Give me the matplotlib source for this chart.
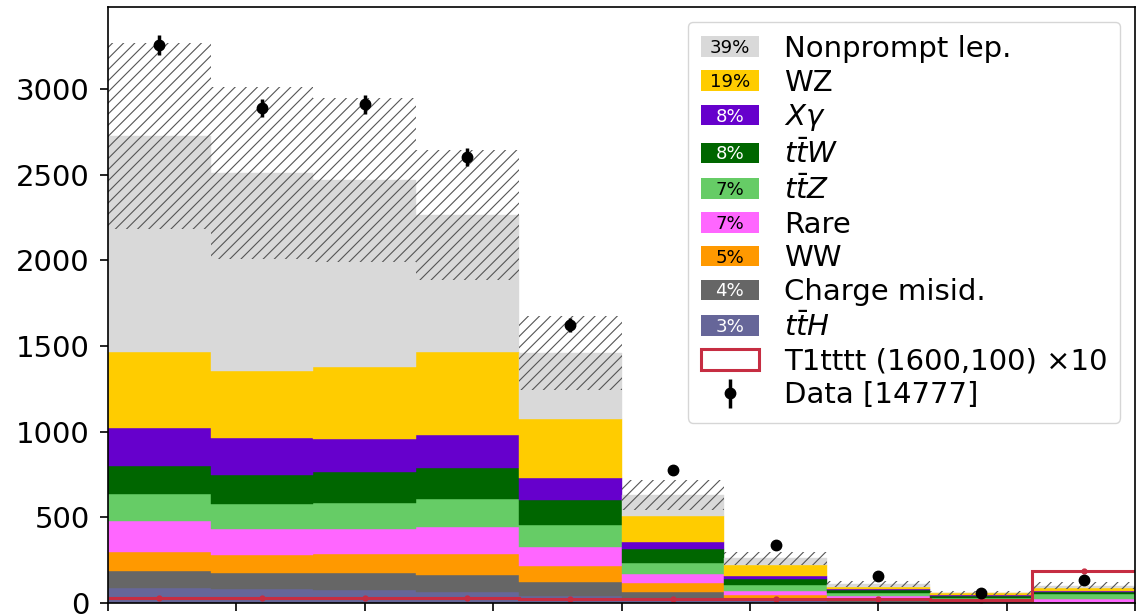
import numpy as np
import matplotlib
matplotlib.use("Agg")
import matplotlib.pyplot as plt
import matplotlib.patches as mpatches
import matplotlib.text as mtext
from matplotlib.legend_handler import HandlerPatch

# binning (10 bins of 80, ticks every 100)
bin_edges = np.arange(0, 801, 80)

# background yields per bin, bottom of the stack first
yield_tth = [90, 80, 74, 64, 41, 18, 18, 7, 3, 2]
yield_chargemisid = [97, 95, 99, 101, 80, 44, 13, 9, 3, 2]
yield_ww = [113, 105, 111, 119, 97, 53, 14, 12, 6, 2]
yield_rare = [180, 150, 146, 158, 111, 56, 27, 15, 8, 20]
yield_ttz = [154, 146, 154, 163, 124, 62, 33, 14, 12, 28]
yield_ttw = [167, 169, 179, 181, 150, 80, 35, 19, 6, 12]
yield_xgamma = [222, 218, 194, 196, 125, 41, 18, 4, 7, 2]
yield_wz = [442, 391, 420, 483, 344, 154, 64, 15, 11, 21]
yield_nonprompt = [1261, 1156, 1092, 800, 389, 122, 38, 15, 4, 11]
stat_unc = [543, 504, 477, 380, 216, 88, 40, 18, 12, 20]

data_counts = [3257, 2889, 2911, 2603, 1624, 775, 340, 160, 60, 137]
signal_x10 = [27, 27, 27, 27, 24, 21, 21, 21, 20, 187]

bkg_names = [r"$t\bar{t}H$", "Charge misid.", "WW", "Rare", r"$t\bar{t}Z$",
             r"$t\bar{t}W$", r"$X\gamma$", "WZ", "Nonprompt lep."]
bkg_yields = [yield_tth, yield_chargemisid, yield_ww, yield_rare, yield_ttz,
              yield_ttw, yield_xgamma, yield_wz, yield_nonprompt]
bkg_colors = ["#666699", "#666666", "#ff9900", "#ff66ff", "#66cc66",
              "#006600", "#6600cc", "#ffcc00", "#d9d9d9"]
bkg_pct = ["3%", "4%", "5%", "7%", "7%", "8%", "8%", "19%", "39%"]
pct_text_colors = ["w", "w", "k", "k", "k", "w", "w", "k", "k"]

signal_label = "T1tttt (1600,100) \u00d710"
data_label = "Data [14777]"
signal_color = "#c62d42"


class PctHandler(HandlerPatch):
    def __init__(self, pct, tcolor):
        super().__init__()
        self.pct = pct
        self.tcolor = tcolor

    def create_artists(self, legend, orig_handle, xdescent, ydescent,
                       width, height, fontsize, trans):
        rect = mpatches.Rectangle((-xdescent, -ydescent), width, height,
                                  facecolor=orig_handle.get_facecolor(),
                                  edgecolor="none", transform=trans)
        txt = mtext.Text(-xdescent + width / 2, -ydescent + height / 2 - 1,
                         self.pct, ha="center", va="center",
                         fontsize=fontsize * 0.62, color=self.tcolor,
                         transform=trans)
        return [rect, txt]


def main():
    plt.rcParams["hatch.linewidth"] = 0.8
    fig = plt.figure(figsize=(11.36, 6.16), dpi=100)
    ax = fig.add_axes([108 / 1136, 13 / 616, 1027 / 1136, 596 / 616])

    widths = np.diff(bin_edges)
    lefts = bin_edges[:-1]
    centers = lefts + widths / 2

    # stacked backgrounds
    bottom = np.zeros(len(lefts))
    for vals, col in zip(bkg_yields, bkg_colors):
        vals = np.array(vals, dtype=float)
        ax.bar(lefts, vals, width=widths, bottom=bottom, align="edge",
               color=col, edgecolor=col, linewidth=0.3)
        bottom += vals

    # uncertainty band
    unc = np.array(stat_unc, dtype=float)
    ax.bar(lefts, 2 * unc, width=widths, bottom=bottom - unc, align="edge",
           fill=False, hatch="///", edgecolor="#555555", linewidth=0)

    # signal
    ax.stairs(signal_x10, bin_edges, color=signal_color, linewidth=2.2,
              baseline=None)
    ax.plot(centers, signal_x10, "o", color=signal_color, markersize=3.5)

    # data
    ax.errorbar(centers, data_counts, yerr=np.sqrt(data_counts), fmt="o",
                color="k", markersize=7.5, elinewidth=2.5, capsize=0)

    ax.set_xlim(bin_edges[0], bin_edges[-1])
    ax.set_ylim(0, 3480)
    ax.set_xticks(np.arange(0, 801, 100))
    ax.set_xticklabels([])
    ax.set_yticks(np.arange(0, 3001, 500))
    ax.tick_params(labelsize=21, length=6, width=1.2, pad=7)
    for sp in ax.spines.values():
        sp.set_linewidth(1.2)

    # legend, top of stack first
    handles, labels, hmap = [], [], {}
    for name, col, pct, tc in reversed(list(zip(bkg_names, bkg_colors,
                                                bkg_pct, pct_text_colors))):
        h = mpatches.Patch(facecolor=col)
        handles.append(h)
        labels.append(name)
        hmap[h] = PctHandler(pct, tc)
    sig_h = mpatches.Patch(facecolor="white", edgecolor=signal_color,
                           linewidth=2.2)
    handles.append(sig_h)
    labels.append(signal_label)
    data_h = ax.errorbar([], [], yerr=[], fmt="o", color="k", markersize=7.5,
                         elinewidth=2.5, capsize=0)
    handles.append(data_h)
    labels.append(data_label)
    ax.legend(handles, labels, handler_map=hmap, loc="upper right",
              fontsize=21, labelspacing=0.2, handletextpad=0.85,
              borderpad=0.45, borderaxespad=0.5)

    fig.savefig("out.png", dpi=100)


if __name__ == "__main__":
    main()
